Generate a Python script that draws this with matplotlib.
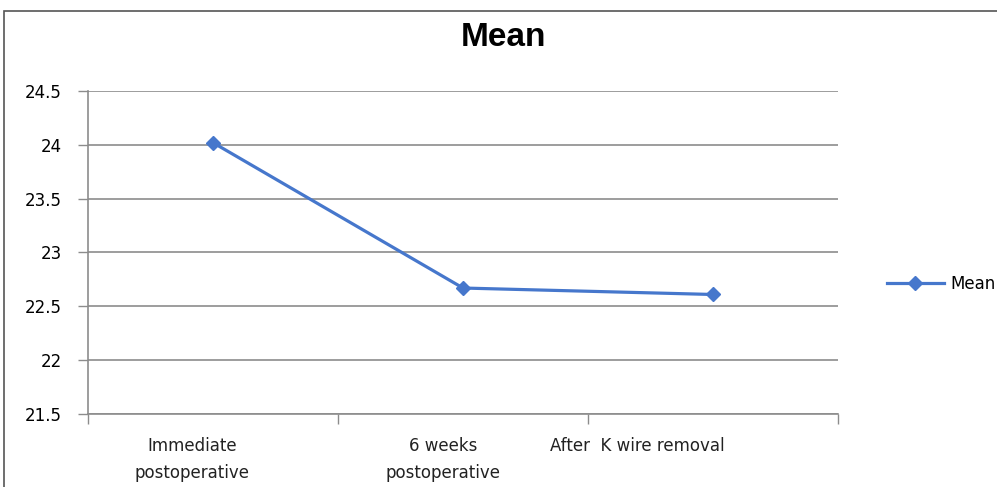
import matplotlib.pyplot as plt
from matplotlib.patches import Rectangle
from matplotlib.transforms import ScaledTranslation
import numpy as np

# Données
categories = ["Immediate\npostoperative", "6 weeks\npostoperative", "After  K wire removal"]
mean_values = [24.02, 22.67, 22.61]
y_ticks = [21.5, 22, 22.5, 23, 23.5, 24, 24.5]
y_tick_labels = ["21.5", "22", "22.5", "23", "23.5", "24", "24.5"]

plt.rcParams['font.family'] = ['DejaVu Sans']

fig = plt.figure(figsize=(9.97, 4.87), dpi=100)
ax = fig.add_axes([88 / 997, 73 / 487, 750 / 997, 323 / 487])

x = np.arange(len(categories))
ax.plot(x, mean_values, color='#4677cc', linewidth=2.3, marker='D', markersize=7,
        label='Mean')

ax.set_xlim(-0.5, len(categories) - 0.5)
ax.set_ylim(21.5, 24.5)

# Axe Y
ax.set_yticks(y_ticks)
ax.set_yticklabels(y_tick_labels, fontsize=12)
ax.tick_params(axis='y', length=7, width=1, color='#8c8c8c', pad=12)
ax.yaxis.grid(True, color='#8c8c8c', linewidth=1.2)
ax.set_axisbelow(True)

# Axe X : traits de graduation entre les catégories
ax.set_xticks(np.arange(len(categories) + 1) - 0.5, minor=True)
ax.set_xticks(x)
ax.set_xticklabels([])
ax.tick_params(axis='x', which='major', length=0)
ax.tick_params(axis='x', which='minor', length=7, width=1, color='#8c8c8c')

offsets = [-21, -20, -76]
for i, (lab, off) in enumerate(zip(categories, offsets)):
    tr = ax.get_xaxis_transform() + ScaledTranslation(off / 100, 0, fig.dpi_scale_trans)
    ax.text(i, -0.07, lab, transform=tr, ha='center', va='top', fontsize=12,
            linespacing=1.7, color='#222222')

for s in ['top', 'right']:
    ax.spines[s].set_visible(False)
for s in ['left', 'bottom']:
    ax.spines[s].set_color('#8c8c8c')
    ax.spines[s].set_linewidth(1.2)

fig.suptitle("Mean", x=503 / 997, y=0.955, fontsize=24, fontweight='bold',
             family=['Liberation Sans', 'DejaVu Sans'])

fig.legend(loc='center left', bbox_to_anchor=(872 / 997, 1 - 284 / 487),
           frameon=False, fontsize=12, handlelength=3.4, handletextpad=0.4)

# Cadre extérieur
fig.patches.append(Rectangle((4 / 997, -0.1), 1.2, 1.1 - 11 / 487,
                             transform=fig.transFigure, fill=False,
                             edgecolor='#555555', linewidth=1.2))

plt.savefig("out.png", dpi=100)
